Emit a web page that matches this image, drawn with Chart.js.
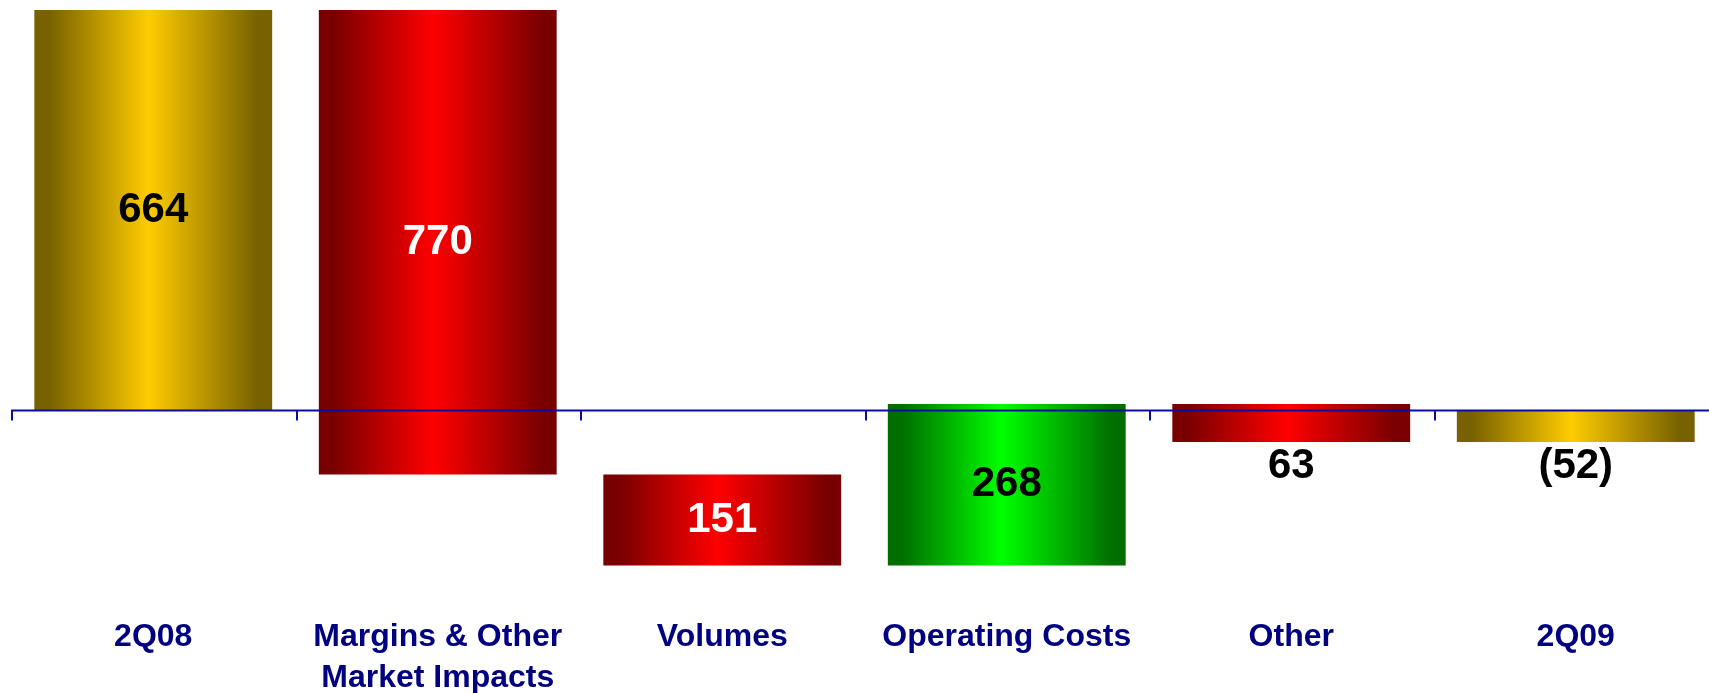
<!DOCTYPE html>
<html>
<head>
<meta charset="utf-8">
<script src="https://cdn.jsdelivr.net/npm/chart.js@4"></script>
<style>
  html, body { margin: 0; padding: 0; overflow: hidden; background: #fff; }
  #wrap { position: relative; width: 1720px; height: 724px; }
</style>
</head>
<body>
<div id="wrap"><canvas id="chart"></canvas></div>
<script>
const categories = ['2Q08', ['Margins & Other', 'Market Impacts'], 'Volumes', 'Operating Costs', 'Other', '2Q09'];
const barTypes = ['total', 'change', 'change', 'change', 'change', 'total'];
const values = [664, -770, -151, 268, -63, -52];
const valueLabels = ['664', '770', '151', '268', '63', '(52)'];
const barColors = ['gold', 'red', 'red', 'green', 'red', 'gold'];

const palettes = {
    gold: ['#776100', '#ffcc00'],
    red: ['#780000', '#ff0000'],
    green: ['#006f00', '#00ff00']
};

// waterfall: totals start at zero, changes start from the running total
let running = 0;
const ranges = values.map((v, i) => {
    if (barTypes[i] === 'total') {
        running = v;
        return [0, v];
    }
    const start = running;
    running += v;
    return [start, running];
});

const BAR_PCT = 0.836;

function barFill(context) {
    const chart = context.chart;
    const pal = palettes[barColors[context.dataIndex]];
    if (!chart.chartArea) return pal[1];
    const x = chart.scales.x;
    const half = x.width / categories.length * BAR_PCT / 2;
    const cx = x.getPixelForValue(context.dataIndex);
    const g = chart.ctx.createLinearGradient(cx - half, 0, cx + half, 0);
    g.addColorStop(0, pal[0]);
    g.addColorStop(0.06, pal[0]);
    g.addColorStop(0.48, pal[1]);
    g.addColorStop(0.94, pal[0]);
    g.addColorStop(1, pal[0]);
    return g;
}

const waterfallDecor = {
    id: 'waterfallDecor',
    afterDatasetsDraw(chart) {
        const { ctx, scales: { x, y } } = chart;
        const zeroY = y.getPixelForValue(0);
        const step = x.width / categories.length;
        ctx.save();
        // zero axis with tick marks between categories
        ctx.strokeStyle = '#0c0ca0';
        ctx.lineWidth = 2;
        ctx.beginPath();
        ctx.moveTo(x.left, zeroY);
        ctx.lineTo(x.right, zeroY);
        for (let i = 0; i < categories.length; i++) {
            const bx = Math.round(x.getPixelForValue(i) - step / 2) + 1;
            ctx.moveTo(bx, zeroY);
            ctx.lineTo(bx, zeroY + 10);
        }
        ctx.stroke();

        ctx.font = 'bold 42px "Liberation Sans", Arial, sans-serif';
        ctx.textAlign = 'center';
        ctx.textBaseline = 'middle';
        chart.getDatasetMeta(0).data.forEach((bar, i) => {
            const top = Math.min(bar.y, bar.base);
            const bottom = Math.max(bar.y, bar.base);
            const inside = bottom - top > 60;
            ctx.fillStyle = inside && barColors[i] === 'red' ? '#ffffff' : '#000000';
            const ty = inside ? (top + bottom) / 2 : bottom + 25;
            ctx.fillText(valueLabels[i], bar.x, ty);
        });
        ctx.restore();
    }
};

new Chart(document.getElementById('chart'), {
    type: 'bar',
    data: {
        labels: categories,
        datasets: [{
            data: ranges,
            backgroundColor: barFill,
            borderWidth: 0,
            barPercentage: BAR_PCT,
            categoryPercentage: 1
        }]
    },
    options: {
        responsive: true,
        maintainAspectRatio: false,
        animation: false,
        layout: { padding: { left: 11, top: 10, right: 2, bottom: 0 } },
        plugins: {
            legend: { display: false },
            tooltip: { enabled: false }
        },
        scales: {
            x: {
                grid: { display: false, drawTicks: false },
                border: { display: false },
                ticks: {
                    color: '#000080',
                    font: { family: '"Liberation Sans", Arial, sans-serif', size: 32, weight: 'bold', lineHeight: 1.28 },
                    padding: 25,
                    maxRotation: 0,
                    autoSkip: false
                }
            },
            y: {
                display: false,
                min: -301,
                max: 664
            }
        }
    },
    plugins: [waterfallDecor]
});
</script>
</body>
</html>
